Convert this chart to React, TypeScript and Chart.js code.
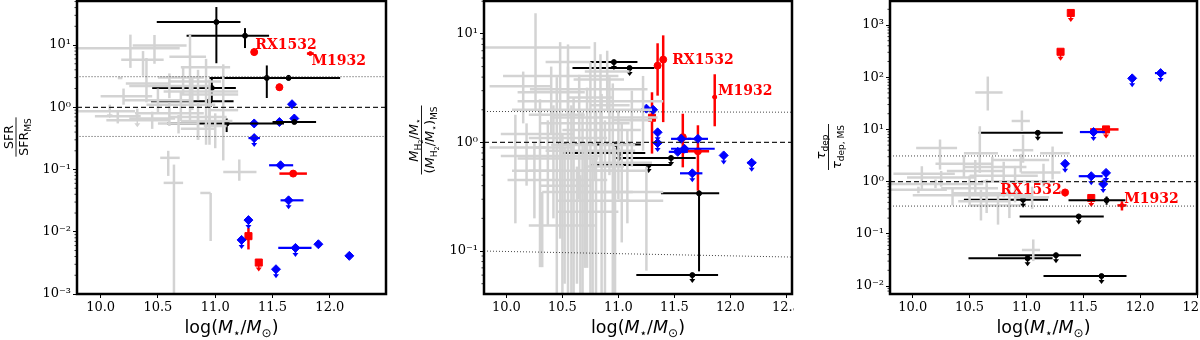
import React, { useEffect, useRef } from 'react';
import { Chart, registerables } from 'chart.js';

Chart.register(...registerables);

type Row = number[]; // [x, y, xlo, xhi, ylo, yhi, upperLimit]

const xTicksA = [10, 10.5, 11, 11.5, 12];
const xTicksB = [10, 10.5, 11, 11.5, 12, 12.5];
const sfrTicks = [0.001, 0.01, 0.1, 1, 10];
const gasTicks = [0.1, 1, 10];
const depTicks = [0.01, 0.1, 1, 10, 100, 1000];

// ---------- Panel 1 : SFR / SFR_MS ----------
const sfrGrey: Row[] = [
  [10.26, 8.9, 9.8, 10.69, 4.3, 14.7, 0],
  [10.47, 9.8, 10.28, 10.75, 5.0, 14.5, 0],
  [10.37, 5.8, 10.18, 10.55, 3.2, 8.0, 0],
  [10.4, 2.4, 10.22, 10.6, 1.2, 6.2, 0],
  [10.78, 6.5, 10.6, 10.92, 0.6, 14.5, 0],
  [10.92, 4.4, 10.7, 11.13, 0.25, 6.0, 0],
  [10.72, 3.0, 10.5, 10.9, 1.6, 4.5, 0],
  [10.85, 2.6, 10.6, 11.05, 1.3, 4.0, 0],
  [10.6, 2.2, 10.25, 10.95, 1.4, 3.5, 0],
  [10.8, 1.8, 10.55, 11.2, 0.9, 3.0, 0],
  [10.95, 1.6, 10.7, 11.2, 0.5, 2.8, 0],
  [10.2, 1.5, 10.0, 10.45, 1.1, 2.0, 0],
  [10.5, 1.3, 10.2, 10.8, 0.8, 2.0, 0],
  [10.7, 1.1, 10.4, 11.0, 0.6, 1.8, 0],
  [10.08, 0.86, 9.8, 10.3, 0.86, 1.1, 1],
  [10.32, 0.62, 10.05, 10.6, 0.62, 0.95, 1],
  [10.6, 0.8, 10.3, 10.9, 0.5, 1.2, 0],
  [10.85, 0.7, 10.6, 11.1, 0.3, 1.2, 0],
  [10.95, 0.6, 10.7, 11.15, 0.25, 1.5, 0],
  [11.0, 0.5, 10.9, 11.1, 0.22, 0.8, 0],
  [10.45, 0.66, 10.25, 10.65, 0.45, 0.85, 0],
  [10.68, 0.55, 10.5, 10.85, 0.38, 0.75, 0],
  [10.15, 0.72, 9.95, 10.35, 0.55, 0.9, 0],
  [10.85, 0.45, 10.7, 11.0, 0.3, 0.7, 0],
  [11.07, 0.9, 10.95, 11.2, 0.14, 4.9, 0],
  [10.17, 2.95, 10.15, 10.19, 2.85, 3.05, 0],
  [10.59, 0.154, 10.52, 10.69, 0.079, 0.2, 0],
  [10.64, 0.061, 10.55, 10.72, 0.0008, 0.12, 0],
  [10.96, 0.042, 10.87, 10.96, 0.0071, 0.042, 0],
  [11.21, 0.091, 11.07, 11.36, 0.066, 0.145, 0],
];
const sfrBlack: Row[] = [
  [11.01, 23.4, 10.49, 11.22, 5.1, 40.8, 0],
  [11.26, 14.1, 10.75, 11.47, 8.95, 18.7, 0],
  [11.45, 2.96, 10.95, 11.67, 1.41, 4.7, 0],
  [11.64, 2.96, 11.45, 12.09, 2.7, 3.3, 0],
  [10.97, 2.04, 10.45, 11.18, 1.25, 2.96, 0],
  [10.95, 1.25, 10.44, 11.16, 1.25, 1.25, 1],
  [11.1, 0.55, 10.58, 11.6, 0.4, 0.66, 0],
  [11.69, 0.58, 11.5, 11.88, 0.58, 0.58, 0],
];
const sfrBlue: Row[] = [
  [11.67, 1.12, 11.67, 11.67, 1.12, 1.12, 0],
  [11.34, 0.55, 11.34, 11.34, 0.55, 0.55, 0],
  [11.56, 0.58, 11.56, 11.56, 0.58, 0.58, 0],
  [11.69, 0.66, 11.69, 11.69, 0.66, 0.66, 0],
  [11.34, 0.32, 11.29, 11.39, 0.32, 0.32, 1],
  [11.57, 0.117, 11.47, 11.68, 0.117, 0.117, 0],
  [11.64, 0.032, 11.57, 11.77, 0.032, 0.032, 1],
  [11.29, 0.0154, 11.29, 11.29, 0.0154, 0.0154, 1],
  [11.23, 0.0074, 11.23, 11.23, 0.0074, 0.0074, 1],
  [11.7, 0.0055, 11.55, 11.84, 0.0055, 0.0055, 1],
  [11.9, 0.0063, 11.9, 11.9, 0.0063, 0.0063, 0],
  [12.17, 0.0041, 12.14, 12.2, 0.0041, 0.0041, 0],
  [11.53, 0.0025, 11.53, 11.53, 0.0025, 0.0025, 1],
];
const sfrRed: Row[] = [
  [11.34, 7.7, 11.34, 11.34, 6.8, 8.8, 0],
  [11.56, 2.1, 11.56, 11.56, 1.85, 2.4, 0],
  [11.68, 0.086, 11.56, 11.8, 0.078, 0.095, 0],
];
const sfrRedSq: Row[] = [
  [11.29, 0.0085, 11.29, 11.29, 0.0052, 0.0115, 0],
  [11.38, 0.0032, 11.38, 11.38, 0.0032, 0.0032, 1],
];
const sfrRedSmall: Row[] = [[11.83, 7.3, 11.8, 11.86, 7.0, 7.6, 0]];
const sfrLabels = [
  ['RX1532', 11.35, 10, 'left'],
  ['M1932', 11.84, 5.4, 'left'],
];
const sfrDotted = [
  [9.79, 3.1, 12.49, 3.1],
  [9.79, 0.34, 12.49, 0.34],
];

// ---------- Panel 2 : MH2/M* ----------
const gasGrey: Row[] = [
  [10.26, 7.5, 9.8, 10.75, 2.0, 15.5, 0],
  [10.48, 4.1, 9.97, 11.0, 0.13, 8.4, 0],
  [10.79, 3.1, 10.21, 11.26, 0.45, 8.4, 0],
  [10.55, 2.4, 10.1, 10.95, 0.03, 5.0, 0],
  [10.65, 2.0, 10.05, 11.3, 0.3, 4.2, 0],
  [11.22, 2.4, 10.9, 11.4, 0.84, 4.1, 0],
  [10.95, 1.7, 10.4, 11.35, 0.03, 3.5, 0],
  [10.72, 1.5, 10.3, 11.1, 0.07, 3.2, 0],
  [10.85, 1.3, 10.5, 11.2, 0.03, 2.8, 0],
  [10.3, 1.2, 9.95, 10.6, 0.071, 2.5, 0],
  [10.6, 1.1, 10.2, 10.9, 0.03, 2.6, 0],
  [10.08, 0.9, 9.85, 10.35, 0.18, 1.8, 0],
  [10.8, 0.84, 10.35, 11.15, 0.03, 2.0, 0],
  [10.18, 0.75, 9.95, 10.5, 0.4, 1.5, 0],
  [10.37, 0.71, 10.1, 10.82, 0.17, 1.6, 0],
  [11.03, 0.65, 10.8, 11.3, 0.12, 1.5, 0],
  [11.08, 0.55, 10.65, 11.25, 0.18, 1.3, 0],
  [10.5, 0.55, 10.2, 10.95, 0.03, 1.2, 0],
  [10.7, 0.45, 10.01, 10.9, 0.07, 1.0, 0],
  [10.97, 0.35, 10.32, 11.13, 0.03, 0.9, 0],
  [10.77, 0.29, 10.45, 11.1, 0.03, 0.7, 0],
  [11.25, 0.29, 11.0, 11.4, 0.066, 0.6, 0],
  [10.66, 0.23, 10.45, 11.0, 0.03, 0.5, 0],
  [10.32, 0.172, 10.2, 10.79, 0.071, 0.35, 0],
  [10.63, 0.35, 10.66, 11.4, 0.05, 0.6, 0],
  [10.84, 3.8, 10.6, 11.05, 0.6, 6.5, 0],
  [10.4, 2.9, 10.1, 10.7, 1.2, 5.0, 0],
  [10.15, 3.3, 9.85, 10.4, 1.5, 4.5, 0],
  [10.55, 5.5, 10.35, 10.75, 1.8, 8.0, 0],
  [10.9, 4.5, 10.7, 11.1, 2.0, 7.0, 0],
  [11.0, 0.95, 10.85, 11.15, 0.3, 2.0, 0],
  [10.45, 1.8, 10.2, 10.7, 0.03, 4.0, 0],
  [10.58, 0.95, 10.4, 10.8, 0.03, 2.2, 0],
  [10.75, 2.6, 10.55, 10.95, 0.03, 5.5, 0],
  [10.88, 0.6, 10.7, 11.05, 0.03, 1.6, 0],
  [10.52, 0.4, 10.3, 10.75, 0.05, 0.9, 0],
  [10.68, 0.75, 10.5, 10.85, 0.04, 1.9, 0],
  [10.42, 0.9, 10.25, 10.6, 0.2, 2.2, 0],
  [10.92, 2.2, 10.75, 11.1, 0.5, 4.0, 0],
  [10.25, 0.55, 10.05, 10.5, 0.2, 1.0, 0],
  [11.12, 1.6, 10.95, 11.3, 0.6, 3.0, 0],
];
const gasBlack: Row[] = [
  [10.96, 5.5, 10.44, 11.17, 5.5, 5.5, 1],
  [11.1, 4.85, 10.59, 11.32, 4.85, 4.85, 1],
  [10.985, 0.96, 10.46, 11.2, 0.96, 0.96, 1],
  [11.01, 0.8, 10.5, 11.24, 0.8, 0.8, 1],
  [11.47, 0.72, 10.96, 11.69, 0.72, 0.72, 1],
  [11.27, 0.62, 10.75, 11.47, 0.62, 0.62, 1],
  [11.72, 0.34, 11.38, 11.9, 0.065, 0.36, 0],
  [11.66, 0.06, 11.16, 11.89, 0.06, 0.06, 1],
];
const gasBlue: Row[] = [
  [11.25, 2.05, 11.25, 11.25, 2.05, 2.05, 0],
  [11.31, 2.0, 11.31, 11.31, 2.0, 2.0, 0],
  [11.35, 1.24, 11.35, 11.35, 1.24, 1.24, 1],
  [11.35, 0.99, 11.31, 11.39, 0.99, 0.99, 1],
  [11.56, 1.08, 11.47, 11.65, 1.08, 1.08, 0],
  [11.71, 1.08, 11.62, 11.8, 1.08, 1.08, 0],
  [11.59, 0.875, 11.47, 11.86, 0.875, 0.875, 0],
  [11.53, 0.82, 11.45, 11.62, 0.82, 0.82, 0],
  [11.66, 0.52, 11.55, 11.75, 0.52, 0.52, 1],
  [11.94, 0.76, 11.94, 11.94, 0.76, 0.76, 1],
  [12.19, 0.65, 12.15, 12.23, 0.65, 0.65, 1],
];
const gasRed: Row[] = [
  [11.35, 5.1, 11.35, 11.35, 2.7, 8.2, 0],
  [11.4, 5.8, 11.4, 11.4, 1.54, 9.7, 0],
  [11.575, 1.12, 11.575, 11.575, 0.59, 1.84, 0],
  [11.71, 0.83, 11.56, 11.81, 0.36, 1.44, 0],
];
const gasRedSq: Row[] = [[11.3, 1.69, 11.3, 11.3, 0.79, 2.9, 0]];
const gasRedSmall: Row[] = [[11.86, 2.62, 11.84, 11.88, 1.41, 4.25, 0]];
const gasLabels = [
  ['RX1532', 11.48, 5.76, 'left'],
  ['M1932', 11.89, 2.94, 'left'],
];
const gasDotted = [
  [9.8, 1.93, 12.55, 1.9],
  [9.8, 0.1, 12.55, 0.088],
];

// ---------- Panel 3 : tau_dep ----------
const depGrey: Row[] = [
  [10.66, 51, 10.55, 10.79, 23, 103, 0],
  [10.96, 14.5, 10.87, 11.03, 9, 23, 0],
  [11.06, 0.049, 10.96, 11.12, 0.03, 0.078, 0],
  [10.24, 4.4, 10.03, 10.39, 1.7, 6.4, 0],
  [10.59, 3.5, 10.45, 10.75, 1.47, 11.5, 0],
  [10.97, 4.0, 10.88, 11.06, 2.3, 7.9, 0],
  [11.23, 3.5, 11.12, 11.38, 1.1, 4.7, 0],
  [10.08, 1.42, 9.83, 10.37, 0.7, 1.97, 0],
  [10.2, 0.9, 9.8, 10.62, 0.75, 1.1, 0],
  [10.45, 2.2, 10.2, 10.7, 1.2, 3.2, 0],
  [10.55, 1.6, 10.3, 10.8, 0.6, 2.6, 0],
  [10.7, 1.9, 10.45, 11.0, 1.0, 3.0, 0],
  [10.8, 1.3, 10.5, 11.1, 0.5, 2.4, 0],
  [10.9, 1.0, 10.6, 11.25, 0.4, 2.0, 0],
  [10.5, 0.75, 10.25, 10.75, 0.35, 1.3, 0],
  [10.65, 0.6, 10.35, 10.95, 0.25, 1.1, 0],
  [10.85, 0.55, 10.6, 11.05, 0.2, 0.9, 0],
  [10.35, 0.55, 10.0, 10.65, 0.35, 0.75, 0],
  [10.6, 0.42, 10.4, 10.85, 0.18, 0.7, 0],
  [10.75, 0.35, 10.5, 10.95, 0.15, 0.55, 0],
  [11.05, 0.5, 10.9, 11.2, 0.3, 0.8, 0],
  [10.25, 1.2, 9.95, 10.55, 0.8, 1.6, 0],
  [10.95, 2.6, 10.7, 11.2, 1.5, 3.4, 0],
  [11.15, 1.5, 10.95, 11.3, 0.8, 2.2, 0],
  [10.05, 0.7, 9.8, 10.3, 0.6, 0.8, 0],
];
const depBlack: Row[] = [
  [11.1, 8.6, 10.58, 11.32, 8.6, 8.6, 1],
  [10.97, 0.45, 10.45, 11.19, 0.45, 0.45, 1],
  [11.705, 0.44, 11.37, 11.87, 0.36, 0.52, 0],
  [11.46, 0.215, 10.94, 11.68, 0.215, 0.215, 1],
  [11.01, 0.034, 10.49, 11.23, 0.034, 0.034, 1],
  [11.26, 0.039, 10.75, 11.48, 0.039, 0.039, 1],
  [11.66, 0.0155, 11.15, 11.88, 0.0155, 0.0155, 1],
];
const depBlue: Row[] = [
  [11.93, 95, 11.93, 11.93, 95, 95, 1],
  [12.18, 120, 12.13, 12.23, 120, 120, 1],
  [11.59, 8.9, 11.47, 11.69, 8.9, 8.9, 1],
  [11.34, 2.2, 11.34, 11.34, 2.2, 2.2, 1],
  [11.57, 1.27, 11.46, 11.67, 1.27, 1.27, 1],
  [11.7, 1.47, 11.7, 11.7, 1.47, 1.47, 1],
  [11.675, 0.9, 11.675, 11.675, 0.9, 0.9, 1],
];
const depRed: Row[] = [[11.34, 0.62, 11.34, 11.34, 0.52, 0.72, 0]];
const depRedSq: Row[] = [
  [11.39, 1700, 11.39, 11.39, 1700, 1700, 1],
  [11.3, 307, 11.3, 11.3, 307, 307, 1],
  [11.7, 10, 11.56, 11.81, 10, 10, 1],
  [11.57, 0.485, 11.57, 11.57, 0.485, 0.485, 1],
];
const depRedSmall: Row[] = [[11.84, 0.35, 11.8, 11.88, 0.28, 0.42, 0]];
const depLabels = [
  ['RX1532', 11.31, 0.68, 'right'],
  ['M1932', 11.86, 0.45, 'left'],
];
const depDotted = [
  [9.8, 3.1, 12.5, 3.1],
  [9.8, 0.34, 12.5, 0.34],
];

// ---------- drawing helpers ----------
const GREY = '#d3d3d3';
const RED = '#ff0000';
const BLUE = '#0000ff';
const BLACK = '#000000';

const SANS = '"DejaVu Sans"';
const f = (size: number, italic = false) => `${italic ? 'italic ' : ''}${size}px ${SANS}`;

type Seg = { t: string; f: string; dy?: number };

function segWidth(ctx: CanvasRenderingContext2D, segs: Seg[]) {
  let w = 0;
  for (const s of segs) {
    ctx.font = s.f;
    w += ctx.measureText(s.t).width;
  }
  return w;
}
function drawSegs(ctx: CanvasRenderingContext2D, segs: Seg[], x: number, y: number) {
  let cx = x;
  for (const s of segs) {
    ctx.font = s.f;
    ctx.fillText(s.t, cx, y + (s.dy || 0));
    cx += ctx.measureText(s.t).width;
  }
}
function drawFraction(ctx: CanvasRenderingContext2D, cx: number, cy: number, num: Seg[], den: Seg[]) {
  ctx.save();
  ctx.translate(cx, cy);
  ctx.rotate(-Math.PI / 2);
  ctx.fillStyle = '#000';
  ctx.textBaseline = 'alphabetic';
  ctx.textAlign = 'left';
  const wn = segWidth(ctx, num);
  const wd = segWidth(ctx, den);
  drawSegs(ctx, num, -wn / 2, -3);
  drawSegs(ctx, den, -wd / 2, 12.5);
  const L = Math.max(wn, wd) + 2;
  ctx.strokeStyle = '#000';
  ctx.lineWidth = 0.9;
  ctx.beginPath();
  ctx.moveTo(-L / 2, 0.5);
  ctx.lineTo(L / 2, 0.5);
  ctx.stroke();
  ctx.restore();
}

const xTitle: Seg[] = [
  { t: 'log(', f: f(17.5) },
  { t: 'M', f: f(17.5, true) },
  { t: '\u22c6', f: f(12), dy: 4 },
  { t: '/', f: f(17.5) },
  { t: 'M', f: f(17.5, true) },
  { t: '\u2299', f: f(12), dy: 4 },
  { t: ')', f: f(17.5) },
];

const SUP: Record<string, string> = { '-': '\u207b', '0': '\u2070', '1': '\u00b9', '2': '\u00b2', '3': '\u00b3', '4': '\u2074' };
const supLabel = (v: number) => '10' + String(Math.round(Math.log10(v))).split('').map((c) => SUP[c]).join('');

type Group = { rows: Row[]; color: string; lw: number; style: string; r: number; arrow: number };

type PanelCfg = {
  left: number;
  width: number;
  yW: number;
  padR: number;
  xMin: number;
  xMax: number;
  yMin: number;
  yMax: number;
  xTicks: number[];
  yTicks: number[];
  groups: Group[];
  dotted: number[][];
  labels: any[];
  titleX: number;
  titleY: number;
  num: Seg[];
  den: Seg[];
};

function groupsOf(grey: Row[], black: Row[], blue: Row[], red: Row[], redSq: Row[], redSmall: Row[]): Group[] {
  return [
    { rows: grey, color: GREY, lw: 2.5, style: 'circle', r: 0, arrow: 7 },
    { rows: black, color: BLACK, lw: 2, style: 'circle', r: 2.5, arrow: 8 },
    { rows: blue, color: BLUE, lw: 2.2, style: 'rectRot', r: 4.5, arrow: 9 },
    { rows: red, color: RED, lw: 2.5, style: 'circle', r: 3.5, arrow: 9 },
    { rows: redSq, color: RED, lw: 2.5, style: 'rect', r: 5, arrow: 9 },
    { rows: redSmall, color: RED, lw: 2.5, style: 'circle', r: 2, arrow: 9 },
  ];
}

const panels: PanelCfg[] = [
  {
    left: 0, width: 400, yW: 77, padR: 14,
    xMin: 9.794, xMax: 12.49, yMin: 0.001, yMax: 51,
    xTicks: xTicksA, yTicks: sfrTicks,
    groups: groupsOf(sfrGrey, sfrBlack, sfrBlue, sfrRed, sfrRedSq, sfrRedSmall),
    dotted: sfrDotted, labels: sfrLabels,
    titleX: 15.5, titleY: 137,
    num: [{ t: 'SFR', f: f(12.5) }],
    den: [{ t: 'SFR', f: f(12.5) }, { t: 'MS', f: f(9), dy: 3 }],
  },
  {
    left: 400, width: 394, yW: 84, padR: 2,
    xMin: 9.8, xMax: 12.55, yMin: 0.0402, yMax: 20.1,
    xTicks: xTicksB, yTicks: gasTicks,
    groups: groupsOf(gasGrey, gasBlack, gasBlue, gasRed, gasRedSq, gasRedSmall),
    dotted: gasDotted, labels: gasLabels,
    titleX: 21, titleY: 140,
    num: [
      { t: 'M', f: f(13, true) }, { t: 'H', f: f(9), dy: 3 }, { t: '2', f: f(6.5), dy: 5 },
      { t: '/', f: f(13) }, { t: 'M', f: f(13, true) }, { t: '\u22c6', f: f(9), dy: 3 },
    ],
    den: [
      { t: '(', f: f(13) }, { t: 'M', f: f(13, true) }, { t: 'H', f: f(9), dy: 3 }, { t: '2', f: f(6.5), dy: 5 },
      { t: '/', f: f(13) }, { t: 'M', f: f(13, true) }, { t: '\u22c6', f: f(9), dy: 3 },
      { t: ')', f: f(13) }, { t: 'MS', f: f(9), dy: 3 },
    ],
  },
  {
    left: 800, width: 400, yW: 90, padR: 3,
    xMin: 9.8, xMax: 12.5, yMin: 0.00703, yMax: 2884,
    xTicks: xTicksB, yTicks: depTicks,
    groups: groupsOf(depGrey, depBlack, depBlue, depRed, depRedSq, depRedSmall),
    dotted: depDotted, labels: depLabels,
    titleX: 28, titleY: 147,
    num: [{ t: '\u03c4', f: f(13, true) }, { t: 'dep', f: f(9), dy: 3 }],
    den: [{ t: '\u03c4', f: f(13, true) }, { t: 'dep, MS', f: f(9), dy: 3 }],
  },
];

function makePlugin(cfg: PanelCfg) {
  return {
    id: 'decor',
    beforeDatasetDraw(chart: any, args: any) {
      const g = cfg.groups[args.index];
      if (!g) return;
      const { ctx, chartArea: a } = chart;
      const xs = chart.scales.x;
      const ys = chart.scales.y;
      ctx.save();
      ctx.beginPath();
      ctx.rect(a.left, a.top, a.right - a.left, a.bottom - a.top);
      ctx.clip();
      ctx.strokeStyle = g.color;
      ctx.fillStyle = g.color;
      ctx.lineWidth = g.lw;
      for (const r of g.rows) {
        const px = xs.getPixelForValue(r[0]);
        const py = ys.getPixelForValue(r[1]);
        if (r[2] !== r[3]) {
          ctx.beginPath();
          ctx.moveTo(xs.getPixelForValue(r[2]), py);
          ctx.lineTo(xs.getPixelForValue(r[3]), py);
          ctx.stroke();
        }
        if (r[4] !== r[5]) {
          ctx.beginPath();
          ctx.moveTo(px, ys.getPixelForValue(r[4]));
          ctx.lineTo(px, ys.getPixelForValue(r[5]));
          ctx.stroke();
        }
        if (r[6]) {
          const len = g.arrow;
          ctx.save();
          ctx.lineWidth = 1.5;
          ctx.beginPath();
          ctx.moveTo(px, py);
          ctx.lineTo(px, py + len - 2);
          ctx.stroke();
          ctx.beginPath();
          ctx.moveTo(px - 3, py + len - 4);
          ctx.lineTo(px + 3, py + len - 4);
          ctx.lineTo(px, py + len);
          ctx.closePath();
          ctx.fill();
          ctx.restore();
        }
      }
      ctx.restore();
    },
    afterDatasetDraw(chart: any, args: any) {
      if (args.index !== 0) return;
      const { ctx, chartArea: a } = chart;
      const xs = chart.scales.x;
      const ys = chart.scales.y;
      ctx.save();
      ctx.beginPath();
      ctx.rect(a.left, a.top, a.right - a.left, a.bottom - a.top);
      ctx.clip();
      ctx.strokeStyle = '#222';
      ctx.lineWidth = 1.3;
      ctx.setLineDash([5, 3]);
      const y1 = ys.getPixelForValue(1);
      ctx.beginPath();
      ctx.moveTo(a.left, y1);
      ctx.lineTo(a.right, y1);
      ctx.stroke();
      ctx.lineWidth = 1;
      ctx.strokeStyle = '#444';
      ctx.setLineDash([1, 2]);
      for (const d of cfg.dotted) {
        ctx.beginPath();
        ctx.moveTo(xs.getPixelForValue(d[0]), ys.getPixelForValue(d[1]));
        ctx.lineTo(xs.getPixelForValue(d[2]), ys.getPixelForValue(d[3]));
        ctx.stroke();
      }
      ctx.restore();
    },
    afterDatasetsDraw(chart: any) {
      const { ctx } = chart;
      const xs = chart.scales.x;
      const ys = chart.scales.y;
      ctx.save();
      ctx.fillStyle = RED;
      ctx.font = 'bold 14px "DejaVu Serif"';
      ctx.textBaseline = 'middle';
      for (const l of cfg.labels) {
        ctx.textAlign = l[3];
        ctx.fillText(l[0], xs.getPixelForValue(l[1]), ys.getPixelForValue(l[2]));
      }
      ctx.restore();
    },
    afterDraw(chart: any) {
      const { ctx, chartArea: a } = chart;
      const ys = chart.scales.y;
      ctx.save();
      ctx.strokeStyle = '#000';
      ctx.lineWidth = 0.8;
      const lo = Math.floor(Math.log10(cfg.yMin));
      const hi = Math.ceil(Math.log10(cfg.yMax));
      for (let n = lo; n <= hi; n++) {
        for (let k = 2; k <= 9; k++) {
          const v = k * Math.pow(10, n);
          if (v < cfg.yMin || v > cfg.yMax) continue;
          const py = ys.getPixelForValue(v);
          ctx.beginPath();
          ctx.moveTo(a.left - 2.5, py);
          ctx.lineTo(a.left, py);
          ctx.stroke();
        }
      }
      ctx.lineWidth = 2.5;
      ctx.strokeRect(a.left, a.top, a.right - a.left, a.bottom - a.top);
      ctx.fillStyle = '#000';
      ctx.textBaseline = 'alphabetic';
      ctx.textAlign = 'left';
      const w = segWidth(ctx, xTitle);
      drawSegs(ctx, xTitle, (a.left + a.right) / 2 - w / 2, 333);
      ctx.restore();
      drawFraction(ctx, cfg.titleX, cfg.titleY, cfg.num, cfg.den);
    },
  };
}

function Panel({ cfg }: { cfg: PanelCfg }) {
  const ref = useRef<HTMLCanvasElement | null>(null);
  useEffect(() => {
    if (!ref.current) return;
    const tickFont = { family: '"DejaVu Serif"', size: 13 };
    const grid = { display: true, drawOnChartArea: false, drawTicks: true, tickLength: 4, color: '#000', lineWidth: 1 };
    const chart = new Chart(ref.current, {
      type: 'scatter',
      data: {
        datasets: cfg.groups.map((g) => ({
          data: g.rows.map((r) => ({ x: r[0], y: r[1] })),
          pointStyle: g.style as any,
          pointRadius: g.r,
          pointHoverRadius: g.r,
          pointBackgroundColor: g.color,
          pointBorderColor: g.color,
          pointBorderWidth: g.r > 0 ? 1 : 0,
          showLine: false,
        })),
      },
      options: {
        animation: false,
        responsive: false,
        events: [],
        layout: { autoPadding: false, padding: { left: 0, right: cfg.padR, top: 1, bottom: 0 } },
        plugins: { legend: { display: false }, tooltip: { enabled: false } },
        scales: {
          x: {
            type: 'linear',
            min: cfg.xMin,
            max: cfg.xMax,
            afterBuildTicks: (s: any) => {
              s.ticks = cfg.xTicks.map((v) => ({ value: v }));
            },
            afterFit: (s: any) => {
              s.height = 46;
              s.paddingLeft = 0;
              s.paddingRight = 0;
            },
            ticks: { font: tickFont, color: '#000', padding: 2, maxRotation: 0, autoSkip: false, callback: (v: any) => Number(v).toFixed(1) },
            grid,
            border: { display: false },
          },
          y: {
            type: 'logarithmic',
            min: cfg.yMin,
            max: cfg.yMax,
            afterBuildTicks: (s: any) => {
              s.ticks = cfg.yTicks.map((v) => ({ value: v, major: true }));
            },
            afterFit: (s: any) => {
              s.width = cfg.yW;
              s.paddingTop = 0;
              s.paddingBottom = 0;
            },
            ticks: { font: tickFont, color: '#000', padding: 2, autoSkip: false, callback: (v: any) => supLabel(Number(v)) },
            grid,
            border: { display: false },
          },
        },
      },
      plugins: [makePlugin(cfg)],
    } as any);
    return () => chart.destroy();
  }, [cfg]);
  return (
    <canvas
      ref={ref}
      width={cfg.width}
      height={340}
      style={{ position: 'absolute', left: cfg.left, top: 0, width: cfg.width, height: 340 }}
    />
  );
}

export default function App() {
  return (
    <div style={{ position: 'fixed', left: 0, top: 0, width: 1200, height: 340, background: '#fff', overflow: 'hidden' }}>
      {panels.map((p, i) => (
        <Panel key={i} cfg={p} />
      ))}
    </div>
  );
}
